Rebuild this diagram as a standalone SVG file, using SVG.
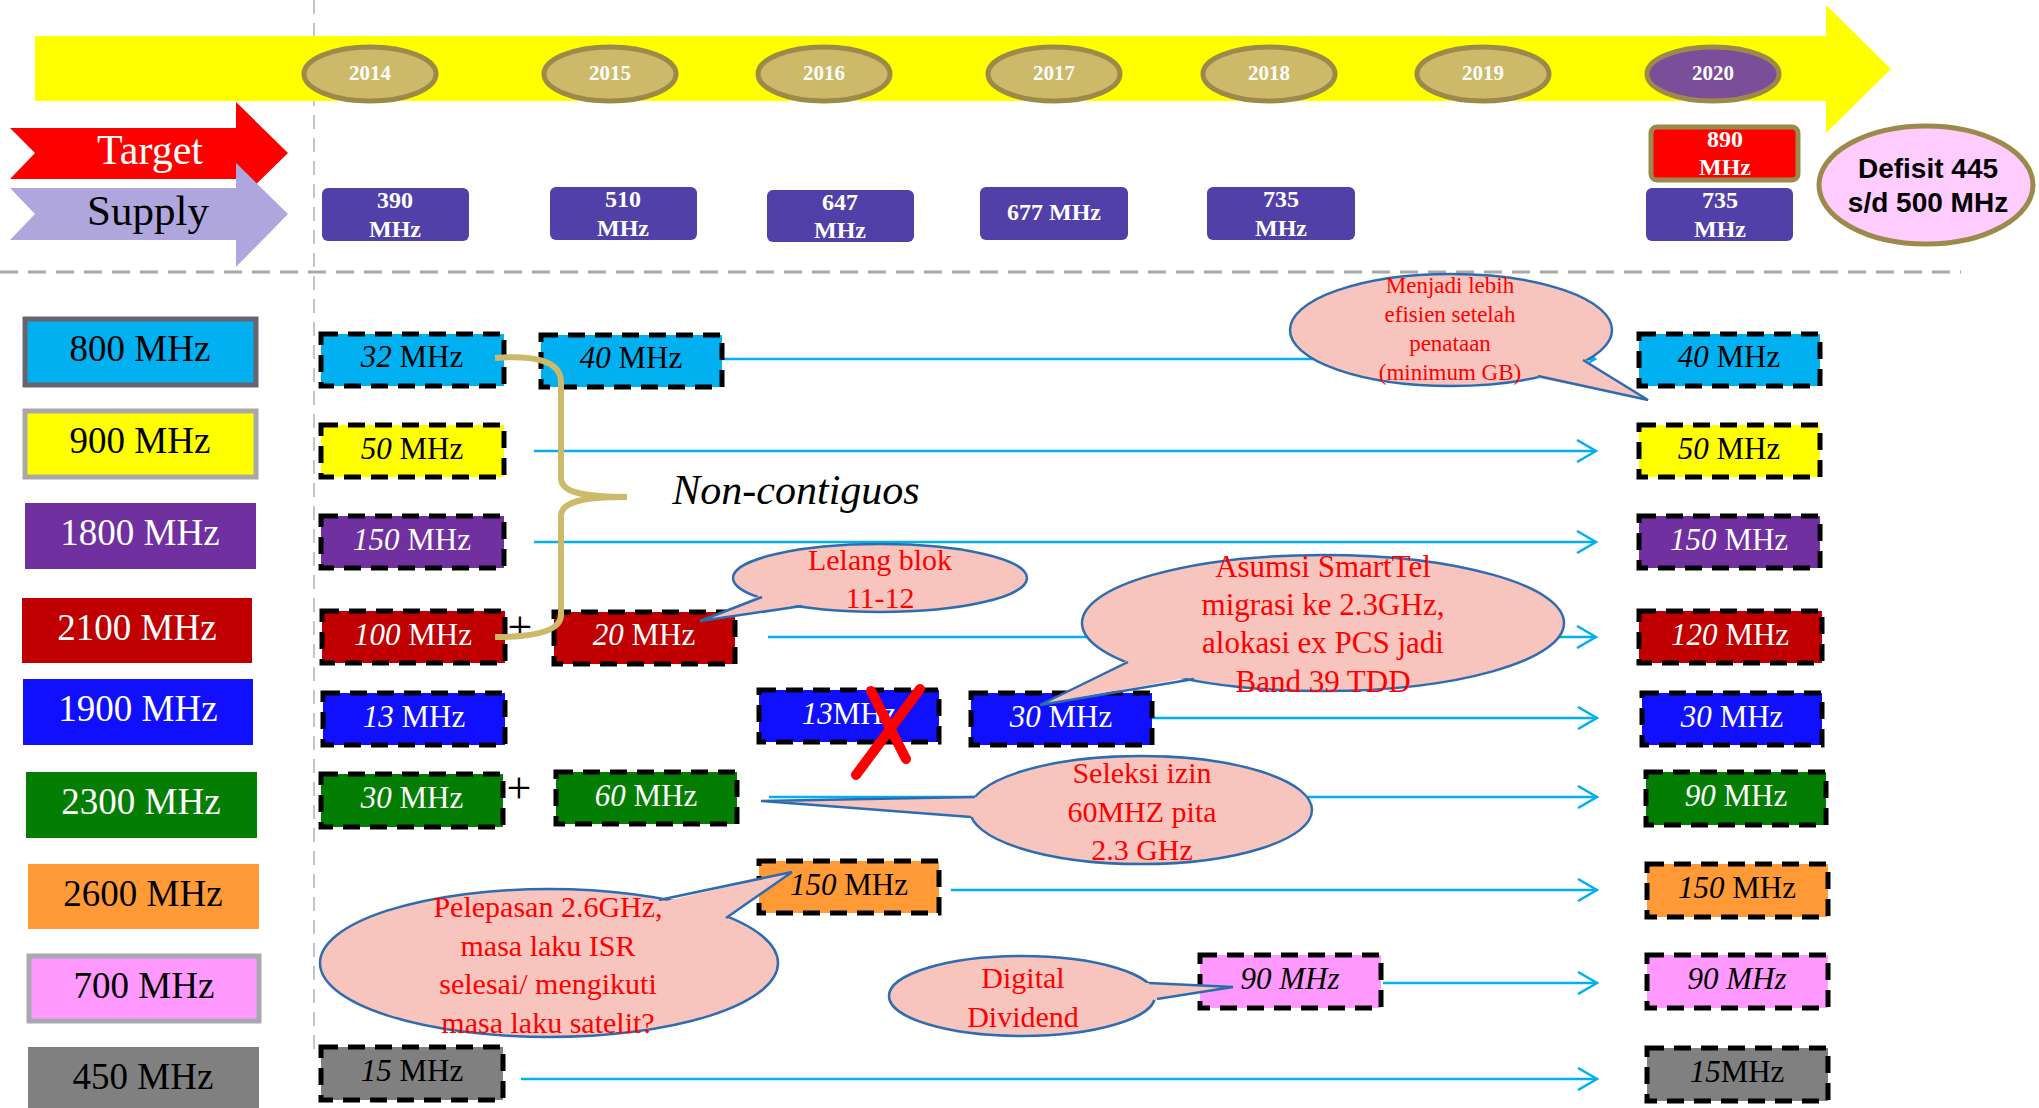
<svg xmlns="http://www.w3.org/2000/svg" width="2039" height="1108" viewBox="0 0 2039 1108">
<style>
.serif{font-family:"Liberation Serif","Times New Roman",serif}
.yr{fill:#CDB96A;stroke:#9B8A4A;stroke-width:5}
.yrt{font-family:"Liberation Serif","Times New Roman",serif;font-weight:bold;font-size:21px;fill:#fff;text-anchor:middle}
.sup{fill:#5040A8}
.supt{font-family:"Liberation Serif","Times New Roman",serif;font-weight:bold;font-size:24px;fill:#fff;text-anchor:middle}
.band{font-family:"Liberation Serif","Times New Roman",serif;font-size:37px;text-anchor:middle}
.alloc{stroke:#000;stroke-width:5;stroke-dasharray:17 10}
.at{font-family:"Liberation Serif","Times New Roman",serif;font-size:31px;text-anchor:middle}
.it{font-style:italic}
.conn{stroke:#00B0F0;stroke-width:2.5;fill:none}
.cb{fill:#F8C4BE;stroke:#2E6CB0;stroke-width:2.5}
.cbf{fill:#F8C4BE;stroke:none}
.cbs{fill:none;stroke:#2E6CB0;stroke-width:2.5}
.ct{font-family:"Liberation Serif","Times New Roman",serif;fill:#FF0000;text-anchor:middle}
</style>
<defs>
<marker id="chev" viewBox="0 0 22 24" refX="20" refY="12" markerWidth="22" markerHeight="24" markerUnits="userSpaceOnUse" orient="auto">
<path d="M1,1 L20,12 L1,23" fill="none" stroke="#00B0F0" stroke-width="2.5"/>
</marker>
</defs>
<rect width="2039" height="1108" fill="#fff"/>
<line x1="314" y1="0" x2="314" y2="1050" stroke="#C4C4D0" stroke-width="2" stroke-dasharray="14 9"/>
<g id="timeline">
<polygon points="35,36 1826,36 1826,5 1891,69 1826,133 1826,101 35,101" fill="#FFFF00"/>
<ellipse class="yr" cx="370" cy="74" rx="66" ry="27"/><text class="yrt" x="370" y="80">2014</text>
<ellipse class="yr" cx="610" cy="74" rx="66" ry="27"/><text class="yrt" x="610" y="80">2015</text>
<ellipse class="yr" cx="824" cy="74" rx="66" ry="27"/><text class="yrt" x="824" y="80">2016</text>
<ellipse class="yr" cx="1054" cy="74" rx="66" ry="27"/><text class="yrt" x="1054" y="80">2017</text>
<ellipse class="yr" cx="1269" cy="74" rx="66" ry="27"/><text class="yrt" x="1269" y="80">2018</text>
<ellipse class="yr" cx="1483" cy="74" rx="66" ry="27"/><text class="yrt" x="1483" y="80">2019</text>
<ellipse class="yr" cx="1713" cy="74" rx="66" ry="27" style="fill:#7B4E9A"/><text class="yrt" x="1713" y="80">2020</text>
</g>
<line x1="0" y1="272" x2="1961" y2="272" stroke="#A8A8A8" stroke-width="3" stroke-dasharray="18 10"/>
<g id="target-arrow">
<polygon points="10,128 236,128 236,102 288,153 236,204 236,179 10,179 35,153" fill="#FF0000"/>
<text x="150" y="164" class="serif" font-size="42" fill="#fff" text-anchor="middle">Target</text>
</g>
<g id="supply-arrow">
<polygon points="10,188 236,188 236,163 288,214 236,267 236,240 10,240 35,214" fill="#B0A6DE"/>
<text x="148" y="225" class="serif" font-size="43" fill="#000" text-anchor="middle">Supply</text>
</g>
<g id="supply-2014"><rect class="sup" x="322" y="188" width="147" height="53" rx="6"/><text class="supt" x="395" y="208">390</text><text class="supt" x="395" y="237">MHz</text></g>
<g id="supply-2015"><rect class="sup" x="550" y="187" width="147" height="53" rx="6"/><text class="supt" x="623" y="207">510</text><text class="supt" x="623" y="236">MHz</text></g>
<g id="supply-2016"><rect class="sup" x="767" y="190" width="147" height="52" rx="6"/><text class="supt" x="840" y="210">647</text><text class="supt" x="840" y="238">MHz</text></g>
<g id="supply-2017"><rect class="sup" x="980" y="187" width="148" height="53" rx="6"/><text class="supt" x="1054" y="220">677 MHz</text></g>
<g id="supply-2018"><rect class="sup" x="1207" y="187" width="148" height="53" rx="6"/><text class="supt" x="1281" y="207">735</text><text class="supt" x="1281" y="236">MHz</text></g>
<g id="supply-2020"><rect class="sup" x="1646" y="188" width="147" height="53" rx="6"/><text class="supt" x="1720" y="208">735</text><text class="supt" x="1720" y="237">MHz</text></g>
<g id="target-2020"><rect x="1651" y="127" width="147" height="53" rx="6" fill="#FF0000" stroke="#9B8A4A" stroke-width="5"/><text class="supt" x="1725" y="147">890</text><text class="supt" x="1725" y="175">MHz</text></g>
<g id="defisit"><ellipse cx="1926" cy="185" rx="107" ry="59" fill="#FFCCFF" stroke="#9B8A4A" stroke-width="5"/>
<text x="1928" y="178" font-family="Liberation Sans,Arial,sans-serif" font-weight="bold" font-size="28" text-anchor="middle">Defisit 445</text>
<text x="1928" y="212" font-family="Liberation Sans,Arial,sans-serif" font-weight="bold" font-size="28" text-anchor="middle">s/d 500 MHz</text></g>

<g id="band-labels">
<g id="band-800"><rect x="25" y="319" width="231" height="66" fill="#00B0F0" stroke="#6A6470" stroke-width="5"/><text class="band" x="140" y="361">800 MHz</text></g>
<g id="band-900"><rect x="25" y="411" width="231" height="66" fill="#FFFF00" stroke="#A8A8A8" stroke-width="5"/><text class="band" x="140" y="453">900 MHz</text></g>
<g id="band-1800"><rect x="25" y="503" width="231" height="66" fill="#7030A0"/><text class="band" x="140" y="545" fill="#fff">1800 MHz</text></g>
<g id="band-2100"><rect x="22" y="598" width="230" height="65" fill="#C00000"/><text class="band" x="137" y="640" fill="#fff">2100 MHz</text></g>
<g id="band-1900"><rect x="23" y="679" width="230" height="66" fill="#1010FF"/><text class="band" x="138" y="721" fill="#fff">1900 MHz</text></g>
<g id="band-2300"><rect x="26" y="772" width="231" height="66" fill="#037E03"/><text class="band" x="141" y="814" fill="#fff">2300 MHz</text></g>
<g id="band-2600"><rect x="28" y="864" width="231" height="65" fill="#FF9A36"/><text class="band" x="143" y="906">2600 MHz</text></g>
<g id="band-700"><rect x="29" y="956" width="230" height="65" fill="#FF99FF" stroke="#A8A8B0" stroke-width="5"/><text class="band" x="144" y="998">700 MHz</text></g>
<g id="band-450"><rect x="28" y="1047" width="231" height="66" fill="#808080"/><text class="band" x="143" y="1089">450 MHz</text></g>
</g>

<g id="connectors">
<line class="conn" x1="722" y1="359" x2="1595" y2="359" marker-end="url(#chev)"/>
<line class="conn" x1="534" y1="451" x2="1596" y2="451" marker-end="url(#chev)"/>
<line class="conn" x1="534" y1="542" x2="1596" y2="542" marker-end="url(#chev)"/>
<line class="conn" x1="768" y1="637" x2="1596" y2="637" marker-end="url(#chev)"/>
<line class="conn" x1="1152" y1="718" x2="1597" y2="718" marker-end="url(#chev)"/>
<line class="conn" x1="769" y1="797" x2="1597" y2="797" marker-end="url(#chev)"/>
<line class="conn" x1="951" y1="890" x2="1597" y2="890" marker-end="url(#chev)"/>
<line class="conn" x1="1383" y1="983" x2="1597" y2="983" marker-end="url(#chev)"/>
<line class="conn" x1="521" y1="1079" x2="1597" y2="1079" marker-end="url(#chev)"/>
</g>

<g id="alloc-800-2014"><rect class="alloc" x="321" y="334" width="183" height="52" fill="#00B0F0"/><text class="at" x="412" y="367"><tspan class="it">32</tspan> MHz</text></g>
<g id="alloc-800-2015"><rect class="alloc" x="541" y="335" width="181" height="52" fill="#00B0F0"/><text class="at" x="631" y="368"><tspan class="it">40</tspan> MHz</text></g>
<g id="alloc-800-2020"><rect class="alloc" x="1639" y="334" width="181" height="52" fill="#00B0F0"/><text class="at" x="1729" y="367"><tspan class="it">40</tspan> MHz</text></g>
<g id="alloc-900-2014"><rect class="alloc" x="321" y="425" width="183" height="52" fill="#FFFF00"/><text class="at" x="412" y="459"><tspan class="it">50</tspan> MHz</text></g>
<g id="alloc-900-2020"><rect class="alloc" x="1639" y="425" width="181" height="52" fill="#FFFF00"/><text class="at" x="1729" y="459"><tspan class="it">50</tspan> MHz</text></g>
<g id="alloc-1800-2014"><rect class="alloc" x="321" y="516" width="183" height="52" fill="#7030A0"/><text class="at" x="412" y="550" fill="#fff"><tspan class="it">150</tspan> MHz</text></g>
<g id="alloc-1800-2020"><rect class="alloc" x="1639" y="516" width="181" height="52" fill="#7030A0"/><text class="at" x="1729" y="550" fill="#fff"><tspan class="it">150</tspan><tspan dx="8">MHz</tspan></text></g>
<g id="alloc-2100-2014"><rect class="alloc" x="322" y="611" width="183" height="52" fill="#C00000"/><text class="at" x="413" y="645" fill="#fff"><tspan class="it">100</tspan> MHz</text></g>
<g id="alloc-2100-2015"><rect class="alloc" x="554" y="612" width="181" height="52" fill="#C00000"/><text class="at" x="644" y="645" fill="#fff"><tspan class="it">20</tspan> MHz</text></g>
<g id="alloc-2100-2020"><rect class="alloc" x="1639" y="611" width="183" height="52" fill="#C00000"/><text class="at" x="1730" y="645" fill="#fff"><tspan class="it">120</tspan><tspan dx="8">MHz</tspan></text></g>
<g id="alloc-1900-2014"><rect class="alloc" x="323" y="693" width="182" height="52" fill="#1010FF"/><text class="at" x="414" y="727" fill="#fff"><tspan class="it">13</tspan> MHz</text></g>
<g id="alloc-1900-2016"><rect class="alloc" x="759" y="690" width="180" height="52" fill="#1010FF"/><text class="at" x="849" y="724" fill="#fff"><tspan class="it">13</tspan>MHz</text></g>
<g id="alloc-1900-2017"><rect class="alloc" x="971" y="693" width="181" height="52" fill="#1010FF"/><text class="at" x="1061" y="727" fill="#fff"><tspan class="it">30</tspan> MHz</text></g>
<g id="alloc-1900-2020"><rect class="alloc" x="1642" y="693" width="180" height="52" fill="#1010FF"/><text class="at" x="1732" y="727" fill="#fff"><tspan class="it">30</tspan><tspan dx="8">MHz</tspan></text></g>
<g id="alloc-2300-2014"><rect class="alloc" x="321" y="774" width="182" height="53" fill="#037E03"/><text class="at" x="412" y="808" fill="#fff"><tspan class="it">30</tspan> MHz</text></g>
<g id="alloc-2300-2015"><rect class="alloc" x="556" y="772" width="181" height="52" fill="#037E03"/><text class="at" x="646" y="806" fill="#fff"><tspan class="it">60</tspan> MHz</text></g>
<g id="alloc-2300-2020"><rect class="alloc" x="1646" y="772" width="180" height="53" fill="#037E03"/><text class="at" x="1736" y="806" fill="#fff"><tspan class="it">90</tspan> MHz</text></g>
<g id="alloc-2600-2016"><rect class="alloc" x="759" y="861" width="180" height="52" fill="#FF9A36"/><text class="at" x="849" y="895"><tspan class="it">150</tspan> MHz</text></g>
<g id="alloc-2600-2020"><rect class="alloc" x="1647" y="864" width="181" height="53" fill="#FF9A36"/><text class="at" x="1737" y="898"><tspan class="it">150</tspan> MHz</text></g>
<g id="alloc-700-2018"><rect class="alloc" x="1200" y="955" width="181" height="53" fill="#FF99FF"/><text class="at it" x="1290" y="989">90 MHz</text></g>
<g id="alloc-700-2020"><rect class="alloc" x="1647" y="955" width="181" height="53" fill="#FF99FF"/><text class="at it" x="1737" y="989">90 MHz</text></g>
<g id="alloc-450-2014"><rect class="alloc" x="321" y="1047" width="182" height="53" fill="#808080"/><text class="at" x="412" y="1081"><tspan class="it">15</tspan> MHz</text></g>
<g id="alloc-450-2020"><rect class="alloc" x="1647" y="1048" width="181" height="53" fill="#808080"/><text class="at" x="1737" y="1082"><tspan class="it">15</tspan>MHz</text></g>

<g id="plus-2100"><text x="520" y="642" class="serif" font-size="44" text-anchor="middle">+</text></g>
<g id="plus-2300"><text x="519" y="803" class="serif" font-size="44" text-anchor="middle">+</text></g>

<g id="brace"><path d="M495,358 C532,355 561,360 561,382 L561,478 C561,492 582,497 627,497 C582,497 561,502 561,516 L561,615 C561,632 532,637 495,637" fill="none" stroke="#CDB96A" stroke-width="6"/></g>
<g id="noncontig"><text x="796" y="504" class="serif" font-size="42" text-anchor="middle" font-style="italic">Non-contiguos</text></g>

<g id="cross-x"><path d="M871,691 L906,759 M920,689 L856,775" stroke="#FF0000" stroke-width="10" stroke-linecap="round" fill="none"/></g>

<g id="callout-menjadi">
<ellipse class="cb" cx="1451" cy="330" rx="161" ry="56"/>
<polygon class="cbf" points="1586,360 1648,400 1538,378 1560,350"/>
<polyline class="cbs" points="1583,360 1648,400 1538,376"/>
<text class="ct" font-size="23" x="1450" y="293">Menjadi lebih</text>
<text class="ct" font-size="23" x="1450" y="322">efisien setelah</text>
<text class="ct" font-size="23" x="1450" y="351">penataan</text>
<text class="ct" font-size="23" x="1450" y="380">(minimum GB)</text>
</g>
<g id="callout-lelang">
<ellipse class="cb" cx="880" cy="578" rx="147" ry="34"/>
<polygon class="cbf" points="764,594 700,621 805,604 790,585"/>
<polyline class="cbs" points="762,597 700,621 802,606"/>
<text class="ct" font-size="30" x="880" y="570">Lelang blok</text>
<text class="ct" font-size="30" x="880" y="608">11-12</text>
</g>
<g id="callout-asumsi">
<ellipse class="cb" cx="1323" cy="623" rx="241" ry="68"/>
<polygon class="cbf" points="1130,659 1040,705 1197,676 1170,650"/>
<polyline class="cbs" points="1128,662 1040,705 1194,679"/>
<text class="ct" font-size="31" x="1323" y="577">Asumsi SmartTel</text>
<text class="ct" font-size="31" x="1323" y="615">migrasi ke 2.3GHz,</text>
<text class="ct" font-size="31" x="1323" y="653">alokasi ex PCS jadi</text>
<text class="ct" font-size="31" x="1323" y="692">Band 39 TDD</text>
</g>
<g id="callout-seleksi">
<ellipse class="cb" cx="1141" cy="810" rx="171" ry="54"/>
<polygon class="cbf" points="978,797 761,801 974,817 990,808"/>
<polyline class="cbs" points="975,797 761,801 971,817"/>
<text class="ct" font-size="30" x="1142" y="783">Seleksi izin</text>
<text class="ct" font-size="30" x="1142" y="822">60MHZ pita</text>
<text class="ct" font-size="30" x="1142" y="860">2.3 GHz</text>
</g>
<g id="callout-pelepasan">
<ellipse class="cb" cx="549" cy="963" rx="229" ry="74"/>
<polygon class="cbf" points="657,903 792,872 723,921 690,920"/>
<polyline class="cbs" points="659,900 792,872 726,918"/>
<text class="ct" font-size="30" x="548" y="917">Pelepasan 2.6GHz,</text>
<text class="ct" font-size="30" x="548" y="956">masa laku ISR</text>
<text class="ct" font-size="30" x="548" y="994">selesai/ mengikuti</text>
<text class="ct" font-size="30" x="548" y="1033">masa laku satelit?</text>
</g>
<g id="callout-digital">
<ellipse class="cb" cx="1022" cy="996" rx="133" ry="40"/>
<polygon class="cbf" points="1146,983 1233,987 1154,1000 1140,992"/>
<polyline class="cbs" points="1149,983 1233,987 1157,999"/>
<text class="ct" font-size="30" x="1023" y="988">Digital</text>
<text class="ct" font-size="30" x="1023" y="1027">Dividend</text>
</g>
</svg>
